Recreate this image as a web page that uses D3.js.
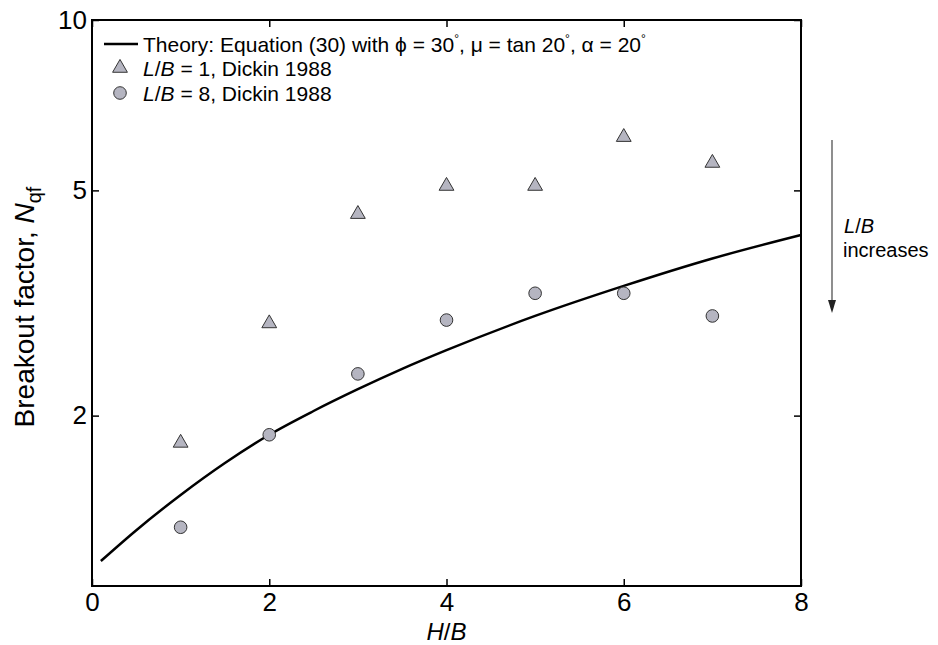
<!doctype html>
<html>
<head>
<meta charset="UTF-8">
<script src="https://cdn.jsdelivr.net/npm/d3@7"></script>
<style>
  body { margin: 0; background: #fff; }
  text { font-family: "Liberation Sans", Arial, sans-serif; fill: #000; }
</style>
</head>
<body>
<svg id="chart" width="938" height="645"></svg>
<script>
// measured values
var hbPoints = [1, 2, 3, 4, 5, 6, 7];
var nqfLB1 = [1.79, 2.91, 4.54, 5.09, 5.09, 6.21, 5.59];
var nqfLB8 = [1.27, 1.85, 2.37, 2.95, 3.29, 3.29, 3.00];

// theory curve, eq. (30)
var theoryHB = [0.1, 0.5, 1, 1.5, 2, 2.5, 3, 3.5, 4, 5, 6, 7, 8];
var theoryNqf = [1.107, 1.255, 1.448, 1.649, 1.85, 2.038, 2.227, 2.419, 2.61, 3.0, 3.39, 3.79, 4.17];

var xTicks = [0, 2, 4, 6, 8];
var yTicks = [2, 5, 10];

var svg = d3.select("#chart");
var plotL = 92, plotR = 801, plotT = 20, plotB = 586;

var x = d3.scaleLinear().domain([0, 8]).range([plotL, plotR]);
var y = d3.scaleLog().domain([1, 10]).range([plotB, plotT]);

var markFill = "#b5b5c1", markStroke = "#333";

// axes with inward ticks
var gx = svg.append("g").attr("transform", "translate(0," + plotB + ")")
  .call(d3.axisBottom(x).tickValues(xTicks).tickSize(-7).tickPadding(7));
var gxTop = svg.append("g").attr("transform", "translate(0," + plotT + ")")
  .call(d3.axisTop(x).tickValues(xTicks).tickSize(-7).tickFormat(""));
var gy = svg.append("g").attr("transform", "translate(" + plotL + ",0)")
  .call(d3.axisLeft(y).tickValues(yTicks).tickSize(-7).tickPadding(5).tickFormat(d3.format("d")));
var gyRight = svg.append("g").attr("transform", "translate(" + plotR + ",0)")
  .call(d3.axisRight(y).tickValues(yTicks).tickSize(-7).tickFormat(""));

[gx, gxTop, gy, gyRight].forEach(function(g) {
  g.select(".domain").remove();
  g.selectAll(".tick line").attr("stroke", "#000").attr("stroke-width", 1.5);
  g.selectAll(".tick text").style("font-size", "26px").attr("fill", "#000")
    .style("font-family", "'Liberation Sans', Arial, sans-serif");
});

svg.append("rect")
  .attr("x", plotL).attr("y", plotT)
  .attr("width", plotR - plotL).attr("height", plotB - plotT)
  .attr("fill", "none").attr("stroke", "#000").attr("stroke-width", 2);

// theory line
var line = d3.line()
  .x(function(d, i) { return x(theoryHB[i]); })
  .y(function(d) { return y(d); })
  .curve(d3.curveMonotoneX);

svg.append("path")
  .datum(theoryNqf)
  .attr("d", line)
  .attr("fill", "none")
  .attr("stroke", "#000")
  .attr("stroke-width", 2.5);

var tri = d3.symbol().type(d3.symbolTriangle).size(95);

svg.append("g").selectAll("path")
  .data(nqfLB1)
  .enter().append("path")
  .attr("d", tri)
  .attr("transform", function(d, i) { return "translate(" + x(hbPoints[i]) + "," + y(d) + ")"; })
  .attr("fill", markFill).attr("stroke", markStroke).attr("stroke-width", 1);

svg.append("g").selectAll("circle")
  .data(nqfLB8)
  .enter().append("circle")
  .attr("cx", function(d, i) { return x(hbPoints[i]); })
  .attr("cy", function(d) { return y(d); })
  .attr("r", 6.3)
  .attr("fill", markFill).attr("stroke", markStroke).attr("stroke-width", 1);

// legend
var lg = svg.append("g").style("font-size", "21px");
lg.append("line").attr("x1", 104).attr("x2", 138).attr("y1", 44).attr("y2", 44)
  .attr("stroke", "#000").attr("stroke-width", 2.5);
var t1 = lg.append("text").attr("x", 143).attr("y", 52);
t1.append("tspan").text("Theory: Equation (30) with \u03D5 = 30");
t1.append("tspan").attr("dy", -9).style("font-size", "12px").text("\u00B0");
t1.append("tspan").attr("dy", 9).text(", \u03BC = tan 20");
t1.append("tspan").attr("dy", -9).style("font-size", "12px").text("\u00B0");
t1.append("tspan").attr("dy", 9).text(", \u03B1 = 20");
t1.append("tspan").attr("dy", -9).style("font-size", "12px").text("\u00B0");

lg.append("path").attr("d", tri).attr("transform", "translate(120,68)")
  .attr("fill", markFill).attr("stroke", markStroke);
var t2 = lg.append("text").attr("x", 143).attr("y", 76);
t2.append("tspan").style("font-style", "italic").text("L");
t2.append("tspan").text("/");
t2.append("tspan").style("font-style", "italic").text("B");
t2.append("tspan").text(" = 1, Dickin 1988");

lg.append("circle").attr("cx", 120).attr("cy", 93).attr("r", 6.3)
  .attr("fill", markFill).attr("stroke", markStroke);
var t3 = lg.append("text").attr("x", 143).attr("y", 101);
t3.append("tspan").style("font-style", "italic").text("L");
t3.append("tspan").text("/");
t3.append("tspan").style("font-style", "italic").text("B");
t3.append("tspan").text(" = 8, Dickin 1988");

// axis titles
var xt = svg.append("text").attr("x", (plotL + plotR) / 2).attr("y", 639.5)
  .attr("text-anchor", "middle").style("font-size", "24px");
xt.append("tspan").style("font-style", "italic").text("H");
xt.append("tspan").text("/");
xt.append("tspan").style("font-style", "italic").text("B");

var yt = svg.append("text")
  .attr("transform", "translate(34," + ((plotT + plotB) / 2 + 4) + ") rotate(-90)")
  .attr("text-anchor", "middle").style("font-size", "28px");
yt.append("tspan").text("Breakout factor, ");
yt.append("tspan").style("font-style", "italic").text("N");
yt.append("tspan").attr("dy", 7).style("font-size", "20px").text("qf");

// L/B increases arrow
svg.append("line").attr("x1", 832).attr("x2", 832).attr("y1", 140).attr("y2", 303)
  .attr("stroke", "#444").attr("stroke-width", 1.2);
svg.append("path").attr("d", "M828,300 L836,300 L832,313 Z").attr("fill", "#222");
var at = svg.append("text").attr("x", 844).attr("y", 233).style("font-size", "20px");
at.append("tspan").style("font-style", "italic").text("L");
at.append("tspan").text("/");
at.append("tspan").style("font-style", "italic").text("B");
svg.append("text").attr("x", 843).attr("y", 257).style("font-size", "20px").text("increases");
</script>
</body>
</html>
